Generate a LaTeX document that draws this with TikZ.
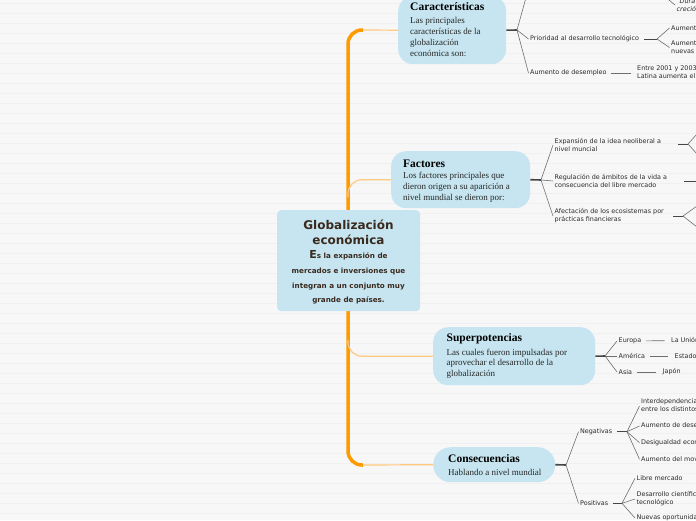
\documentclass[tikz,border=0pt]{standalone}
\usepackage{fontspec}
\setmainfont{Liberation Serif}
\newfontfamily\dejavu{DejaVu Sans}
\definecolor{bgc}{HTML}{F7F7F7}
\definecolor{stripec}{HTML}{F0F0F0}
\definecolor{bubblefill}{HTML}{C6E5F0}
\definecolor{trunkc}{HTML}{FF9A00}
\definecolor{branchc}{HTML}{FFC97F}
\definecolor{stubc}{HTML}{454545}
\definecolor{forkc}{HTML}{6E6E6E}
\definecolor{lbltext}{HTML}{2A2A2A}
\definecolor{centext}{HTML}{3A2A1E}
\begin{document}
\begin{tikzpicture}[x=1pt,y=-1pt,
  bubble/.style={fill=bubblefill, draw=none, rounded corners=15pt, anchor=north west, inner sep=0pt},
  cbox/.style={fill=bubblefill, draw=none, rounded corners=4pt, anchor=north west, inner sep=0pt},
  ttl/.style={font=\fontsize{11.5}{13}\selectfont\bfseries, anchor=west, inner sep=0pt, text=black},
  body/.style={font=\fontsize{9}{11.2}\selectfont, anchor=west, align=left, inner sep=0pt, text=black!85},
  ctitle/.style={font=\dejavu\bfseries\fontsize{12}{14.6}\selectfont, align=center, inner sep=0pt, text=centext},
  csub/.style={font=\dejavu\bfseries\fontsize{7.2}{14.6}\selectfont, align=center, inner sep=0pt, text=centext},
  lbl/.style={font=\dejavu\fontsize{6.4}{8}\selectfont, anchor=west, align=left, inner sep=1.5pt, text=lbltext},
  stub/.style={draw=stubc, line width=1.6pt},
  substub/.style={draw=stubc, line width=1pt},
  fork/.style={draw=forkc, line width=0.6pt},
  leafline/.style={draw=forkc, line width=0.7pt, shorten <=3pt, shorten >=5pt},
  trunk/.style={draw=trunkc, line width=3.5pt, rounded corners=14pt},
  branch/.style={draw=branchc, line width=1.2pt, rounded corners=14pt},
]
\useasboundingbox (0,0) rectangle (696,520);
\clip (0,0) rectangle (696,520);
\fill[bgc] (0,0) rectangle (696,520);
\foreach \yy in {3,13,...,513} \draw[stripec, line width=1pt] (0,\yy) -- (696,\yy);

% trunk
\coordinate (ttop) at (363,30);
\coordinate (tbot) at (363,465);
\coordinate (tk) at (348,250);
\draw[trunk] (ttop) -| (tk) |- (tbot);
\coordinate (fk) at (348,197);
\coordinate (sk) at (348,340);

% central
\node[cbox, minimum width=143pt, minimum height=101pt] (cen) at (277,210) {};
\node[ctitle] (centitle) at (348.5,232) {Globalización\\económica};
\node[csub] (censub) at (348.5,277.5) {{\fontsize{11}{11}\selectfont E}s la expansión de\\mercados e inversiones que\\integran a un conjunto muy\\grande de países.};

% Caracteristicas
\node[bubble, minimum width=108pt, minimum height=68pt] (car) at (398,-4) {};
\node[ttl] (cart) at (410,7) {Características};
\node[body] (carb) at (410,37) {Las principales\\características de la\\globalización\\económica son:};
\draw[branch] (ttop) -- (car.west);
\coordinate (carf) at (517,30);
\draw[stub] (car.east) -- (carf);
\node[lbl] (prio) at (528.5,39) {Prioridad al desarrollo tecnológico};
\node[lbl] (desem) at (528.5,73) {Aumento de desempleo};
\coordinate (cartop) at (527,-6);
\draw[fork] (carf) -- (cartop);
\draw[fork] (carf) -- (prio.west);
\draw[fork] (carf) -- (desem.west);
\coordinate (prf) at (657,39);
\draw[substub] (prio.east) ++(3,0) -- (prf);
\node[lbl] (au1) at (669.5,28) {Aumento de};
\node[lbl] (au2) at (669.5,47.5) {Aumento de\\nuevas tecnologías};
\draw[fork] (prf) -- (au1.west);
\draw[fork] (prf) -- (au2.west);
\node[lbl] (entre) at (635.5,73) {Entre 2001 y 2003 en\\Latina aumenta el desempleo};
\draw[leafline] (desem) -- (entre);
\coordinate (duraf) at (663,-5);
\node[lbl, font=\dejavu\itshape\fontsize{6.4}{8}\selectfont] (dura) at (675,5) {\hspace{3pt}Dura\\creció};
\draw[fork] (duraf) -- (dura.west);

% Factores
\node[bubble, minimum width=139pt, minimum height=57pt] (fac) at (391,151) {};
\node[ttl] (fact) at (403,163.3) {Factores};
\node[body, font=\fontsize{9}{10.8}\selectfont] (facb) at (403,187.5) {Los factores principales que\\dieron origen a su aparición a\\nivel mundial se dieron por:};
\draw[branch] (fk) |- (fac.west);
\coordinate (facf) at (541,180);
\draw[stub] (fac.east) -- (facf);
\node[lbl] (exp) at (553,145) {Expansión de la idea neoliberal a\\nivel muncial};
\node[lbl] (reg) at (553,181) {Regulación de ámbitos de la vida a\\consecuencia del libre mercado};
\node[lbl] (afe) at (553,216) {Afectación de los ecosistemas por\\prácticas financieras};
\draw[fork] (facf) -- (exp.west);
\draw[fork] (facf) -- (reg.west);
\draw[fork] (facf) -- (afe.west);
\coordinate (expa) at (678,144);
\coordinate (expr) at (688,144);
\coordinate (expu) at (697,134);
\coordinate (expd) at (697,154);
\draw[substub] (expa) -- (expr);
\draw[fork] (expr) -- (expu);
\draw[fork] (expr) -- (expd);
\coordinate (rega) at (684,181);
\coordinate (regr) at (697,181);
\draw[substub] (rega) -- (regr);
\coordinate (afea) at (673,216);
\coordinate (afer) at (683,216);
\coordinate (afeu) at (697,206);
\coordinate (afed) at (697,227);
\draw[substub] (afea) -- (afer);
\draw[fork] (afer) -- (afeu);
\draw[fork] (afer) -- (afed);

% Superpotencias
\node[bubble, minimum width=162pt, minimum height=58pt] (sup) at (433,327) {};
\node[ttl] (supt) at (446.5,339) {Superpotencias};
\node[body, font=\fontsize{9}{10.3}\selectfont] (supb) at (446.5,363.5) {Las cuales fueron impulsadas por\\aprovechar el desarrollo de la\\globalización};
\draw[branch] (sk) |- (sup.west);
\coordinate (supf) at (605,356);
\draw[stub] (sup.east) -- (supf);
\node[lbl] (eur) at (617,341) {Europa};
\node[lbl] (ame) at (617,356) {América};
\node[lbl] (asia) at (617,372) {Asia};
\draw[fork] (supf) -- (eur.west);
\draw[fork] (supf) -- (ame.west);
\draw[fork] (supf) -- (asia.west);
\node[lbl] (union) at (669.5,340.5) {La Unión Europea};
\node[lbl] (eeuu) at (673,356) {Estados Unidos};
\node[lbl] (jap) at (661,372) {Japón};
\draw[leafline] (eur) -- (union);
\draw[leafline] (ame) -- (eeuu);
\draw[leafline] (asia) -- (jap);

% Consecuencias
\node[bubble, rounded corners=17.5pt, minimum width=122pt, minimum height=35pt] (cons) at (433,447) {};
\node[ttl] (const) at (448,459) {Consecuencias};
\node[body] (consb) at (448,472) {Hablando a nivel mundial};
\draw[branch] (tbot) -- (cons.west);
\coordinate (consf) at (566,465);
\draw[stub] (cons.east) -- (consf);
\node[lbl] (neg) at (578.5,431.7) {Negativas};
\node[lbl] (pos) at (578.5,503.3) {Positivas};
\draw[fork] (consf) -- (neg.west);
\draw[fork] (consf) -- (pos.west);
\coordinate (negf) at (627,431.7);
\draw[substub] (neg.east) ++(3,0) -- (negf);
\node[lbl] (inter) at (639.5,406) {Interdependencia económica\\entre los distintos países};
\node[lbl] (dese) at (639.5,426) {Aumento de desempleo};
\node[lbl] (desi) at (639.5,442.7) {Desigualdad económica};
\node[lbl] (mov) at (639.5,459.3) {Aumento del movimiento};
\draw[fork] (negf) -- (inter.west);
\draw[fork] (negf) -- (dese.west);
\draw[fork] (negf) -- (desi.west);
\draw[fork] (negf) -- (mov.west);
\coordinate (posf) at (622,503.3);
\draw[substub] (pos.east) ++(3,0) -- (posf);
\node[lbl] (libre) at (635,478.3) {Libre mercado};
\node[lbl] (cien) at (635,499) {Desarrollo científico y\\tecnológico};
\node[lbl] (nuev) at (635,518) {Nuevas oportunidades};
\draw[fork] (posf) -- (libre.west);
\draw[fork] (posf) -- (cien.west);
\draw[fork] (posf) -- (nuev.west);
\end{tikzpicture}
\end{document}
